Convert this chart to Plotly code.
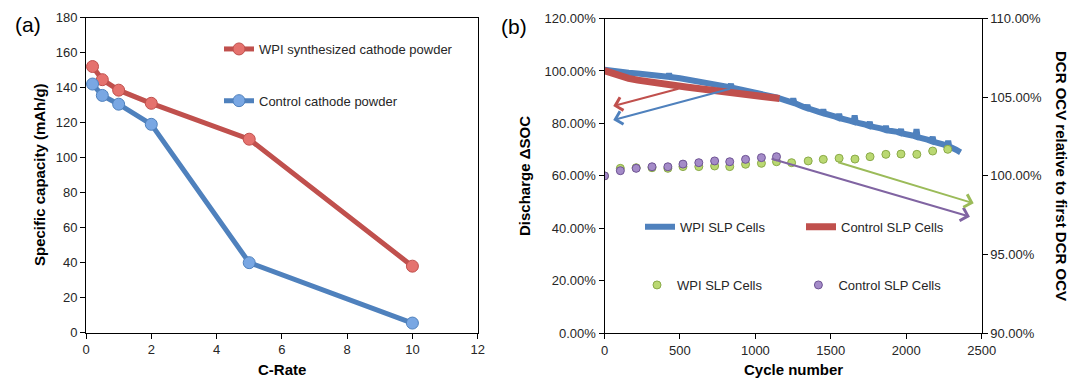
import plotly.graph_objects as go

# ---------------- Data: panel (a) ----------------
c_rate = [0.2, 0.5, 1, 2, 5, 10]
wpi_capacity = [152, 144.5, 138.5, 131, 110.5, 38]
control_capacity = [142, 135.5, 130.5, 119, 40, 5.5]

# ---------------- Data: panel (b) ----------------
wpi_soc_cycle = [0, 50, 100, 160, 220, 280, 340, 400, 420, 428, 436, 500, 560, 620, 680, 740,
                 800, 830, 838, 846, 900, 960, 1020, 1080, 1140, 1200, 1243, 1251, 1259, 1320,
                 1338, 1345, 1352, 1420, 1443, 1450, 1457, 1530, 1548, 1555, 1562, 1630, 1651,
                 1658, 1665, 1720, 1751, 1758, 1765, 1830, 1858, 1865, 1872, 1940, 1958, 1965,
                 1972, 2040, 2061, 2068, 2075, 2140, 2168, 2175, 2182, 2250, 2271, 2278, 2285,
                 2330, 2360]
wpi_soc_pct = [100.5, 100.0, 99.7, 99.3, 99.0, 98.7, 98.3, 97.9, 97.8, 98.9, 97.7, 97.2, 96.6,
               96.0, 95.4, 94.8, 94.1, 93.8, 95.0, 93.6, 93.0, 92.3, 91.6, 90.8, 89.9, 88.8,
               88.0, 89.5, 87.8, 86.3, 85.9, 87.0, 85.7, 84.4, 84.0, 85.3, 83.8, 82.6, 82.2,
               83.6, 82.0, 81.0, 80.6, 83.0, 80.4, 79.7, 79.1, 80.6, 78.9, 78.1, 77.6, 79.0,
               77.4, 76.8, 76.4, 77.8, 76.2, 75.4, 75.0, 77.8, 74.8, 73.8, 73.2, 74.9, 73.0,
               71.9, 71.4, 73.4, 71.2, 70.0, 69.0]

ctrl_soc_cycle = [0, 50, 100, 160, 220, 300, 380, 460, 540, 620, 700, 780, 860, 940, 1020, 1100, 1160]
ctrl_soc_pct = [100.1, 99.0, 98.0, 97.2, 96.5, 95.7, 95.1, 94.5, 93.9, 93.3, 92.7, 92.1, 91.5,
                91.0, 90.4, 89.9, 89.5]

wpi_dcr_cycle = [0, 105, 210, 315, 420, 520, 625, 730, 830, 935, 1040, 1140, 1240, 1350, 1450,
                 1555, 1660, 1760, 1865, 1965, 2070, 2175, 2275]
wpi_dcr_pct = [100.0, 100.48, 100.52, 100.52, 100.48, 100.59, 100.59, 100.63, 100.59, 100.74,
               100.80, 100.90, 100.84, 100.95, 101.05, 101.12, 101.07, 101.22, 101.37, 101.39,
               101.37, 101.58, 101.69]

ctrl_dcr_cycle = [0, 105, 210, 315, 420, 520, 625, 730, 830, 935, 1040, 1140]
ctrl_dcr_pct = [100.0, 100.33, 100.48, 100.58, 100.58, 100.75, 100.84, 100.95, 100.90, 101.05,
                101.16, 101.22]

# Arrows: (tip cycle, tip value, tail cycle, tail value, colour)
soc_arrows = [(58, 86.6, 500, 93.4, "#C0504D"), (58, 81.3, 843, 93.4, "#4F81BD")]
dcr_arrows = [(2422, 97.41, 1097, 101.12, "#8064A2"), (2447, 98.26, 1539, 100.9, "#9BBB59")]

RED = "#C0504D"
BLUE = "#4F81BD"
FONT = "Arial, Liberation Sans, sans-serif"
TXT = "#262626"

W, H = 1071, 378
def px(x):
    return x / W
def py(y):
    return 1 - y / H

fig = go.Figure()

fig.add_trace(go.Scatter(
    x=c_rate, y=wpi_capacity, mode="lines+markers", name="WPI synthesized cathode powder",
    line=dict(color=RED, width=5),
    marker=dict(size=12, color="#E5726E", line=dict(color=RED, width=1)),
    xaxis="x", yaxis="y", legend="legend"))
fig.add_trace(go.Scatter(
    x=c_rate, y=control_capacity, mode="lines+markers", name="Control cathode powder",
    line=dict(color=BLUE, width=5),
    marker=dict(size=12, color="#79A7E3", line=dict(color=BLUE, width=1)),
    xaxis="x", yaxis="y", legend="legend2"))

fig.add_trace(go.Scatter(
    x=wpi_soc_cycle, y=wpi_soc_pct, mode="lines", name="WPI SLP Cells",
    line=dict(color=BLUE, width=6), xaxis="x2", yaxis="y2", legend="legend3"))
fig.add_trace(go.Scatter(
    x=ctrl_soc_cycle, y=ctrl_soc_pct, mode="lines", name="Control SLP Cells",
    line=dict(color=RED, width=7), xaxis="x2", yaxis="y2", legend="legend4"))
fig.add_trace(go.Scatter(
    x=wpi_dcr_cycle, y=wpi_dcr_pct, mode="markers", name="WPI SLP Cells",
    marker=dict(size=8, color="#BAD872", line=dict(color="#8AAA48", width=1)),
    xaxis="x2", yaxis="y3", legend="legend5"))
fig.add_trace(go.Scatter(
    x=ctrl_dcr_cycle, y=ctrl_dcr_pct, mode="markers", name="Control SLP Cells",
    marker=dict(size=8, color="#A48BC8", line=dict(color="#6E5394", width=1)),
    xaxis="x2", yaxis="y3", legend="legend6"))

axis_common = dict(showline=True, linecolor="black", linewidth=1, ticks="outside", ticklen=5,
                   tickcolor="black", showgrid=False, zeroline=False,
                   tickfont=dict(family=FONT, size=13, color=TXT))

fig.update_layout(
    width=W, height=H, margin=dict(l=0, r=0, t=0, b=0, autoexpand=False),
    paper_bgcolor="white", plot_bgcolor="white",
    font=dict(family=FONT, color=TXT),
    xaxis=dict(domain=[px(86), px(477.7)], range=[0, 12], dtick=2, anchor="y", mirror=True,
               **axis_common),
    yaxis=dict(domain=[py(332.7), py(17.5)], range=[0, 180], dtick=20, anchor="x", mirror=True,
               **axis_common),
    xaxis2=dict(domain=[px(604.5), px(981.7)], range=[0, 2500], dtick=500, anchor="y2",
                mirror=True, **axis_common),
    yaxis2=dict(domain=[py(333.3), py(18.5)], range=[0, 120], dtick=20, anchor="x2",
                tickformat=".2f", ticksuffix="%", **axis_common),
    yaxis3=dict(range=[90, 110], dtick=5, overlaying="y2", side="right", anchor="x2",
                tickformat=".2f", ticksuffix="%", **axis_common),
    showlegend=True,
)

def leg(x, y):
    return dict(x=px(x), y=py(y), xanchor="left", yanchor="middle", bgcolor="rgba(0,0,0,0)",
                font=dict(family=FONT, size=13, color=TXT), itemwidth=30, borderwidth=0)

fig.update_layout(
    legend=leg(219, 49), legend2=leg(219, 100.7),
    legend3=leg(640, 226.7), legend4=leg(801, 226.7),
    legend5=leg(637, 285), legend6=leg(798.4, 285),
)

annotations = []
def label(text, x, y, size=15, bold=True, angle=0):
    annotations.append(dict(text=f"<b>{text}</b>" if bold else text, x=px(x), y=py(y),
                            xref="paper", yref="paper", showarrow=False, textangle=angle,
                            font=dict(family=FONT, size=size, color="black"),
                            xanchor="center", yanchor="middle"))

label("Specific capacity (mAh/g)", 39, 175, angle=-90)
label("C-Rate", 282, 369)
label("(a)", 28, 24, size=21, bold=False)
label("(b)", 514, 26, size=21, bold=False)
label("Discharge \u0394SOC", 524, 176, angle=-90)
label("Cycle number", 793, 369)
label("DCR OCV relative to first DCR OCV", 1062, 176, angle=90)

for (tx, ty, ax, ay, col) in soc_arrows:
    annotations.append(dict(x=tx, y=ty, ax=ax, ay=ay, xref="x2", yref="y2", axref="x2",
                            ayref="y2", showarrow=True, arrowhead=4, arrowsize=1.3,
                            arrowwidth=2, arrowcolor=col, text=""))
for (tx, ty, ax, ay, col) in dcr_arrows:
    annotations.append(dict(x=tx, y=ty, ax=ax, ay=ay, xref="x2", yref="y3", axref="x2",
                            ayref="y3", showarrow=True, arrowhead=4, arrowsize=1.3,
                            arrowwidth=2, arrowcolor=col, text=""))

fig.update_layout(annotations=annotations)

fig.write_html("out.html", config={"displayModeBar": False},
               post_script="document.body.style.margin='0';document.body.style.overflow='hidden';")
